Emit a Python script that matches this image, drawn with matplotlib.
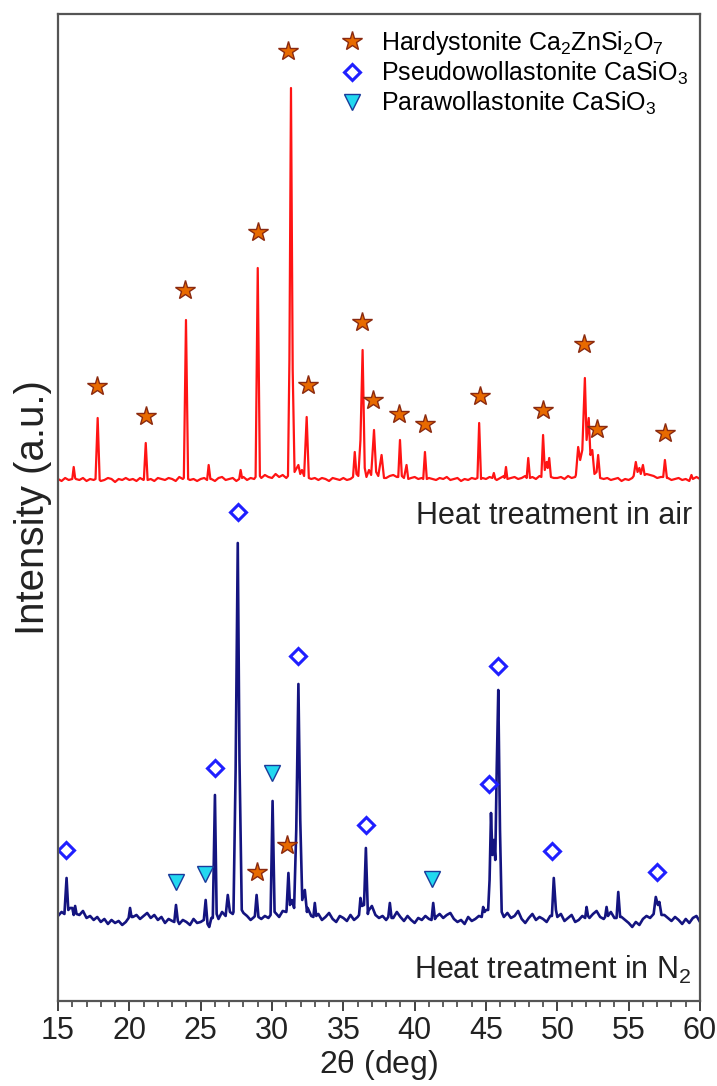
import matplotlib
matplotlib.use("Agg")
import matplotlib.pyplot as plt
import numpy as np
from matplotlib.ticker import MultipleLocator

plt.rcParams["font.family"] = ["Liberation Sans", "DejaVu Sans"]
plt.rcParams["mathtext.default"] = "regular"

# 2-theta grid of the digitised background (deg)
grid_tt = np.arange(15.0, 60.001, 0.25)

# background noise, heat treatment in air (a.u.)
air_base = [
    1, -1, 2, 0, 3, 1, 0, 2, -1, 1, 0, 3, -1, 0, 2, 1, -2, 1, 0, 2,
    0, 1, -1, 2, 0, 3, 1, -1, 2, 1, 0, 2, 1, -1, 3, 1, 2, 0, 1, -1,
    1, 2, 0, 1, -1, 2, 3, 0, 1, 2, -1, 1, 3, 0, 2, 1, 4, 2, 5, 3,
    2, 6, 3, 5, 2, 4, 6, 3, 4, 5, 3, 1, 2, 0, 2, 1, -1, 2, 1, 0,
    2, 0, 1, 3, 2, 4, 3, 5, 6, 4, 5, 3, 2, 4, 5, 3, 2, 4, 1, 2,
    3, 1, 2, 4, 2, 1, 0, 2, 1, 3, 0, 1, 2, -1, 1, 0, 2, 1, 3, 2,
    1, 3, 2, 0, 2, 4, 1, 2, 3, 1, 2, 4, 2, 3, 1, 4, 3, 5, 3, 2,
    2, 3, 1, 4, 2, 3, 5, 4, 7, 9, 6, 4, 3, 1, 2, 0, 1, 2, -1, 1,
    0, 2, 1, 3, 4, 6, 5, 4, 2, 3, 1, 2, 0, 1, 2, 0, 1, -1, 2, 3,
    1,
]

# background noise, heat treatment in N2 (a.u.)
n2_base = [
    4, 8, 6, 3, 12, 8, 5, 9, 2, 4, 0, 3, -2, 1, -4, 0, -3, -1, -5, -2,
    6, 3, 5, 1, 4, 7, 2, 5, 0, 3, -3, 1, -1, 2, -4, 0, -2, -5, 1, -3,
    -2, 4, -6, 2, 5, 1, 8, 4, 10, 6, 3, 2, 7, 4, 0, 3, 6, 1, 4, 2,
    5, 7, 3, 9, 8, 12, 14, 10, 6, 8, 12, 4, 2, 6, 0, 3, 7, 1, -2, 4,
    2, -1, 5, 0, 3, 6, 2, 9, 14, 5, 2, 4, 0, 5, 2, 8, 3, -1, 4, 0,
    -3, 2, 0, 4, 1, -2, 3, 6, 2, 5, 7, 1, -2, 0, -4, 3, -1, 1, 4, 9,
    10, 12, 14, 8, 5, 3, 7, 2, 4, 9, 1, -3, 2, 6, 0, 3, 1, -2, 4, 8,
    3, 6, -1, 2, 5, -2, 0, 4, 7, 2, 6, 9, 3, 1, 6, 8, 2, -2, 3, 0,
    -3, -7, -2, -5, 1, 4, 2, 5, 7, 8, 5, 2, -1, 3, 0, -4, 1, -3, 2, 4,
    -2,
]

# reflections, air sample: (2theta, intensity) vertices
air_peaks = [
    [(16.0, 1), (16.1, 13), (16.2, 2)],
    [(17.63, 1), (17.78, 62), (17.92, 0)],
    [(21.02, 1), (21.15, 37), (21.28, 0)],
    [(23.82, 2), (23.97, 160), (24.12, 1)],
    [(25.45, 0), (25.56, 15), (25.68, 1)],
    [(27.7, 1), (27.8, 10), (27.9, 2)],
    [(28.85, 3), (29.0, 212), (29.15, 4)],
    [(31.12, 4), (31.22, 120), (31.33, 392), (31.45, 110), (31.58, 8),
     (31.85, 15), (31.98, 6), (32.1, 10), (32.25, 4), (32.43, 63), (32.58, 2)],
    [(35.68, 3), (35.8, 28), (35.92, 6), (36.05, 4), (36.2, 40), (36.35, 130),
     (36.5, 12), (36.62, 3), (36.8, 10), (36.95, 5), (37.15, 50), (37.3, 8),
     (37.45, 4), (37.68, 25), (37.85, 2)],
    [(38.85, 3), (38.97, 40), (39.1, 4), (39.25, 2), (39.43, 15), (39.55, 1)],
    [(40.6, 1), (40.72, 28), (40.85, 1)],
    [(44.4, 2), (44.52, 57), (44.65, 1)],
    [(45.45, 2), (45.55, 7), (45.65, 1)],
    [(46.3, 2), (46.4, 13), (46.5, 1)],
    [(47.85, 2), (47.96, 22), (48.08, 2)],
    [(48.88, 3), (49.0, 45), (49.12, 10), (49.25, 18), (49.33, 12),
     (49.43, 22), (49.55, 3)],
    [(51.3, 5), (51.46, 33), (51.6, 20), (51.75, 30), (51.93, 102), (52.05, 40),
     (52.2, 62), (52.32, 25), (52.45, 30), (52.6, 6), (52.75, 8), (52.86, 25),
     (53.0, 2)],
    [(55.35, 4), (55.5, 18), (55.62, 8), (55.75, 12), (55.85, 6), (56.0, 15),
     (56.12, 5)],
    [(57.42, 3), (57.54, 20), (57.68, 2)],
    [(59.3, 1), (59.4, 5), (59.5, 1)],
]

# reflections, N2 sample
n2_peaks = [
    [(15.45, 6), (15.6, 42), (15.72, 10), (15.85, 12)],
    [(16.1, 5), (16.2, 14), (16.3, 6)],
    [(19.95, 2), (20.05, 12), (20.15, 3)],
    [(23.15, -2), (23.27, 15), (23.4, -1)],
    [(25.22, 0), (25.35, 20), (25.48, -4), (25.6, -7)],
    [(25.85, 2), (26.0, 125), (26.12, 6)],
    [(26.75, 4), (26.9, 25), (27.05, 8)],
    [(27.3, 8), (27.45, 150), (27.6, 377), (27.72, 160), (27.88, 10)],
    [(28.8, 4), (28.92, 25), (29.05, 3)],
    [(29.9, 5), (30.04, 119), (30.18, 8)],
    [(31.02, 10), (31.15, 47), (31.26, 15), (31.4, 20), (31.55, 12), (31.7, 90),
     (31.85, 236), (31.98, 100), (32.12, 20), (32.3, 30), (32.45, 8)],
    [(32.9, 3), (33.0, 17), (33.1, 4)],
    [(36.1, 5), (36.2, 22), (36.3, 14), (36.45, 15), (36.58, 72), (36.72, 6)],
    [(38.15, 3), (38.26, 17), (38.38, 2)],
    [(41.18, 0), (41.3, 17), (41.42, 1)],
    [(44.7, 3), (44.8, 13), (44.9, 8)],
    [(45.15, 10), (45.25, 40), (45.35, 107), (45.45, 65), (45.55, 80),
     (45.65, 60), (45.75, 150), (45.86, 230), (45.98, 90), (46.1, 8)],
    [(49.62, 4), (49.75, 42), (49.9, 10)],
    [(51.95, 2), (52.05, 13), (52.15, 4)],
    [(53.35, 3), (53.45, 13), (53.55, 4)],
    [(54.15, 2), (54.27, 28), (54.4, 3)],
    [(56.75, 6), (56.9, 23), (57.05, 15), (57.15, 18), (57.3, 5)],
]

# phase markers (2theta, intensity)
air_hardy_tt = [17.71, 21.15, 23.9, 29.02, 31.12, 32.55, 36.3, 37.06, 38.93,
                40.72, 44.58, 49.02, 51.89, 52.76, 57.55]
air_hardy_int = [94, 64, 190, 248, 429, 95, 158, 80, 66, 56, 84, 70, 136, 51, 47]

n2_hardy_tt = [28.97, 31.03]
n2_hardy_int = [48, 75]
n2_pseudo_tt = [15.56, 26.0, 27.62, 31.82, 36.59, 45.2, 45.84, 49.6, 56.96]
n2_pseudo_int = [70, 152, 408, 264, 95, 136, 254, 69, 48]
n2_para_tt = [23.27, 25.3, 30.0, 41.19]
n2_para_int = [38, 46, 147, 41]

legend_labels = [
    "Hardystonite Ca$_2$ZnSi$_2$O$_7$",
    "Pseudowollastonite CaSiO$_3$",
    "Parawollastonite CaSiO$_3$",
]


def build_trace(base, peaks):
    """Replace the background inside each reflection by its vertices."""
    pts = []
    for x, y in zip(grid_tt, base):
        if not any(p[0][0] <= x <= p[-1][0] for p in peaks):
            pts.append((x, y))
    for p in peaks:
        pts.extend(p)
    pts.sort()
    return np.array([a for a, b in pts]), np.array([b for a, b in pts])


air_off = 521
n2_off = 81

star = dict(marker="*", ls="none", ms=15, mfc="#e86a00", mec="#8b2a10", mew=1.0)
diam = dict(marker="D", ls="none", ms=8.5, mfc="white", mec="#1f1fff", mew=2.2)
tri = dict(marker="v", ls="none", ms=12, mfc="#22d8f0", mec="#1a3a9a", mew=1.0)

fig = plt.figure(figsize=(7.17, 10.86), dpi=100)
ax = fig.add_axes([0.0809, 0.0783, 0.8954, 0.9088])

x, y = build_trace(air_base, air_peaks)
ax.plot(x, y + air_off, color="#ff1414", lw=1.6)
x, y = build_trace(n2_base, n2_peaks)
ax.plot(x, y + n2_off, color="#141480", lw=1.9)

ax.plot(air_hardy_tt, np.array(air_hardy_int) + air_off, **star)
h1, = ax.plot(n2_hardy_tt, np.array(n2_hardy_int) + n2_off, **star)
h2, = ax.plot(n2_pseudo_tt, np.array(n2_pseudo_int) + n2_off, **diam)
h3, = ax.plot(n2_para_tt, np.array(n2_para_int) + n2_off, **tri)

ax.legend([h1, h2, h3], legend_labels, loc="upper right", frameon=False,
          fontsize=18, handletextpad=0.35, labelspacing=0.12,
          bbox_to_anchor=(1.005, 1.0), borderaxespad=0.2, handlelength=1.6)

ax.text(0.9875, 0.491, "Heat treatment in air", transform=ax.transAxes,
        ha="right", va="center", fontsize=22, color="#222222")
ax.text(0.9875, 0.031, "Heat treatment in N$_2$", transform=ax.transAxes,
        ha="right", va="center", fontsize=22, color="#222222")

ax.set_xlim(15, 60)
ax.set_ylim(0, 987)
ax.xaxis.set_major_locator(MultipleLocator(5))
ax.xaxis.set_minor_locator(MultipleLocator(1))
ax.tick_params(axis="x", which="major", direction="out", length=7, width=1.3,
               labelsize=22, colors="#333333", labelcolor="#222222")
ax.tick_params(axis="x", which="minor", direction="out", length=4, width=1.1,
               colors="#333333")
ax.set_yticks([])
for s in ax.spines.values():
    s.set_color("#555555")
    s.set_linewidth(1.6)

ax.set_xlabel(r"2$\theta$ (deg)", fontsize=23, color="#222222", labelpad=2)
ax.set_ylabel("Intensity (a.u.)", fontsize=29, color="#222222", labelpad=4)

fig.savefig("out.png", dpi=100)
plt.close("all")
